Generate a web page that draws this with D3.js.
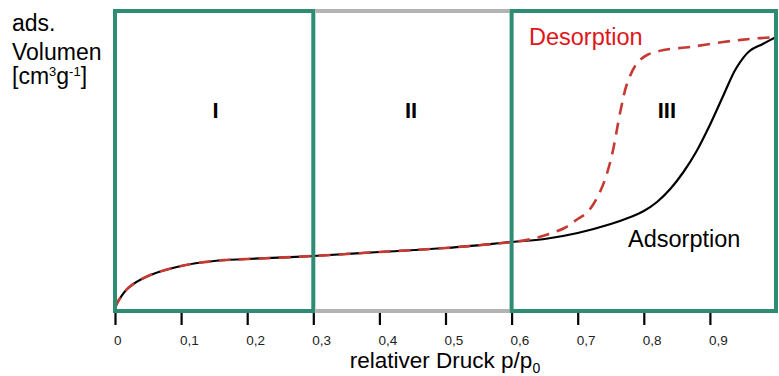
<!DOCTYPE html>
<html>
<head>
<meta charset="utf-8">
<script src="https://cdn.jsdelivr.net/npm/d3@7"></script>
<style>
  body { margin: 0; background: #fff; }
  text { font-family: "Liberation Sans", Arial, sans-serif; }
</style>
</head>
<body>
<div id="chart"></div>
<script>

// relative pressure p/p0 and adsorbed volume (arbitrary units)
const adsP = [0, 0.005, 0.02, 0.05, 0.1, 0.15, 0.2, 0.3, 0.4, 0.5, 0.6, 0.65, 0.7, 0.75, 0.78, 0.8, 0.82, 0.84, 0.86, 0.88, 0.9, 0.92, 0.94, 0.96, 0.98, 1.0];
const adsV = [3, 10, 23, 35, 45, 50, 52, 55, 59, 63, 69, 72, 78, 87, 94, 100, 109, 122, 139, 160, 186, 215, 243, 260, 267, 274];

const desP = [0, 0.005, 0.02, 0.05, 0.1, 0.15, 0.2, 0.3, 0.4, 0.5, 0.6, 0.63, 0.68, 0.7, 0.715, 0.735, 0.75, 0.765, 0.775, 0.79, 0.805, 0.83, 0.87, 0.92, 0.96, 1.0];
const desV = [3, 10, 23, 35, 45, 50, 52, 55, 59, 63, 69, 72, 83, 92, 99, 121, 151, 201, 228, 248, 256, 261, 264, 269, 272, 274];

const xTicks = [0, 0.1, 0.2, 0.3, 0.4, 0.5, 0.6, 0.7, 0.8, 0.9];
const regionNames = ["I", "II", "III"];
const regionFrom = [0, 0.3, 0.6];
const regionTo = [0.3, 0.6, 1.0];
const regionBoxed = [true, false, true];
const regionLabelP = [0.152, 0.448, 0.835];

const width = 779;
const height = 376;

const svg = d3.select("#chart")
    .append("svg")
    .attr("width", width)
    .attr("height", height);

const xScale = d3.scaleLinear()
    .domain([0, 1])
    .range([115, 776]);

const yScale = d3.scaleLinear()
    .domain([0, 300])
    .range([311, 11]);

const green = "#2e8b74";
const grey = "#b3b3b3";

/*
CURVES
*/
const line = d3.line()
    .x(function(d) { return xScale(d[0]); })
    .y(function(d) { return yScale(d[1]); })
    .curve(d3.curveCatmullRom.alpha(0.5));

svg.append("path")
    .datum(d3.zip(adsP, adsV))
    .attr("d", line)
    .attr("fill", "none")
    .attr("stroke", "#000")
    .attr("stroke-width", 2.2);

svg.append("path")
    .datum(d3.zip(desP, desV))
    .attr("d", line)
    .attr("fill", "none")
    .attr("stroke", "#c73a33")
    .attr("stroke-width", 2.6)
    .attr("stroke-dasharray", "12,8");

/*
REGION BOXES
*/
regionNames.forEach(function(name, i) {
    const x0 = xScale(regionFrom[i]);
    const x1 = xScale(regionTo[i]);
    if (regionBoxed[i]) {
        svg.append("rect")
            .attr("x", x0)
            .attr("y", yScale(300))
            .attr("width", x1 - x0)
            .attr("height", yScale(0) - yScale(300))
            .attr("fill", "none")
            .attr("stroke", green)
            .attr("stroke-width", 4);
    } else {
        [300, 0].forEach(function(v) {
            svg.append("line")
                .attr("x1", x0 + 2).attr("x2", x1 - 2)
                .attr("y1", yScale(v)).attr("y2", yScale(v))
                .attr("stroke", grey)
                .attr("stroke-width", 4);
        });
    }
    svg.append("text")
        .attr("x", xScale(regionLabelP[i]))
        .attr("y", 118)
        .attr("text-anchor", "middle")
        .attr("font-weight", "bold")
        .attr("font-size", 22)
        .text(name);
});

/*
X AXIS
*/
const xAxis = svg.append("g")
    .attr("transform", "translate(0,313)")
    .call(d3.axisBottom(xScale).tickValues(xTicks).tickSize(12).tickFormat(""));
xAxis.select(".domain").remove();
xAxis.selectAll(".tick line").attr("stroke", "#000").attr("stroke-width", 2.2);

svg.selectAll(".xlabel")
    .data(xTicks)
    .enter()
    .append("text")
    .attr("class", "xlabel")
    .attr("x", function(d) { return xScale(d) - 1; })
    .attr("y", 345)
    .attr("font-size", 13.5)
    .attr("fill", "#222")
    .text(function(d) { return d3.format(".1~f")(d).replace(".", ","); });

const xTitle = svg.append("text")
    .attr("x", 445)
    .attr("y", 368)
    .attr("text-anchor", "middle")
    .attr("font-size", 22.5);
xTitle.append("tspan").text("relativer Druck p/p");
xTitle.append("tspan").attr("font-size", 14).attr("dy", 5).text("0");

/*
LABELS
*/
const yTitle = svg.append("text")
    .attr("font-size", 23);
yTitle.append("tspan").attr("x", 12).attr("y", 31).text("ads.");
yTitle.append("tspan").attr("x", 12).attr("y", 60).text("Volumen");
const unit = yTitle.append("tspan").attr("x", 12).attr("y", 84);
unit.append("tspan").text("[cm");
unit.append("tspan").attr("font-size", 13).attr("dy", -8).text("3");
unit.append("tspan").attr("dy", 8).text("g");
unit.append("tspan").attr("font-size", 13).attr("dy", -8).text("-1");
unit.append("tspan").attr("dy", 8).text("]");

svg.append("text")
    .attr("x", 529)
    .attr("y", 45)
    .attr("font-size", 23.5)
    .attr("fill", "#e0141b")
    .text("Desorption");

svg.append("text")
    .attr("x", 628)
    .attr("y", 247)
    .attr("font-size", 23.5)
    .attr("fill", "#000")
    .text("Adsorption");

</script>
</body>
</html>
